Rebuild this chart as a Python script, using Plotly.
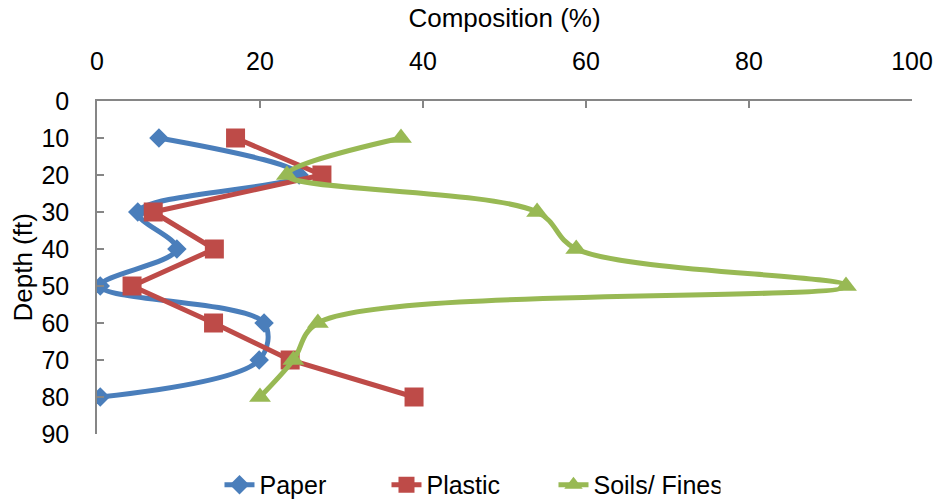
import plotly.graph_objects as go

# Depth profile of waste composition
depth_ft = [10, 20, 30, 40, 50, 60, 70, 80]
paper = [7.6, 24.8, 5.0, 9.8, 0.4, 20.5, 19.9, 0.4]
plastic = [17.0, 27.6, 6.9, 14.4, 4.3, 14.3, 23.7, 38.9]
soils_fines = [37.3, 23.3, 54.0, 58.8, 91.9, 27.1, 24.1, 20.0]

x_ticks = [0, 20, 40, 60, 80, 100]
y_ticks = [0, 10, 20, 30, 40, 50, 60, 70, 80, 90]

FONT = "Liberation Sans, Arial, sans-serif"
AXIS_GREY = "#868686"

fig = go.Figure()

fig.add_trace(go.Scatter(
    x=paper, y=depth_ft, name="Paper", mode="lines+markers",
    line=dict(color="#4A7EBB", width=5, shape="spline", smoothing=1.0),
    marker=dict(symbol="diamond", size=15, color="#4A7EBB"),
))
fig.add_trace(go.Scatter(
    x=plastic, y=depth_ft, name="Plastic", mode="lines+markers",
    line=dict(color="#BE4B48", width=5),
    marker=dict(symbol="square", size=19, color="#BE4B48"),
))
fig.add_trace(go.Scatter(
    x=soils_fines, y=depth_ft, name="Soils/ Fines", mode="lines+markers",
    line=dict(color="#98B954", width=5, shape="spline", smoothing=1.0),
    marker=dict(symbol="triangle-up", size=19, color="#98B954"),
))

fig.update_layout(
    width=936, height=502,
    margin=dict(l=97, r=24, t=101, b=68, autoexpand=False),
    paper_bgcolor="white", plot_bgcolor="white",
    font=dict(family=FONT, size=25, color="black"),
    showlegend=True,
    legend=dict(
        orientation="h", xref="container", yref="container",
        x=0.2345, xanchor="left", y=0.034, yanchor="middle",
        font=dict(size=25), tracegroupgap=0,
        entrywidth=122, entrywidthmode="pixels",
    ),
    xaxis=dict(
        side="top", range=[0, 100], tickvals=x_ticks, automargin=False,
        tickfont=dict(size=25),
        title=dict(text="Composition (%)", standoff=12, font=dict(size=26)),
        showline=True, linecolor=AXIS_GREY, linewidth=1.5,
        ticks="inside", ticklen=7, tickcolor=AXIS_GREY, tickwidth=1.5,
        showgrid=False, zeroline=False, mirror=False,
        ticklabelstandoff=19,
    ),
    yaxis=dict(
        range=[90, 0], tickvals=y_ticks, automargin=False,
        tickfont=dict(size=25),
        showline=True, linecolor=AXIS_GREY, linewidth=1.5,
        ticks="inside", ticklen=7, tickcolor=AXIS_GREY, tickwidth=1.5,
        showgrid=False, zeroline=False,
        ticklabelstandoff=21,
    ),
    annotations=[dict(
        text="Depth (ft)", textangle=-90, showarrow=False,
        xref="paper", yref="paper", x=-0.092, y=0.5,
        xanchor="center", yanchor="middle",
        font=dict(size=26, family=FONT, color="black"),
    )],
)

fig.write_html("out.html")
